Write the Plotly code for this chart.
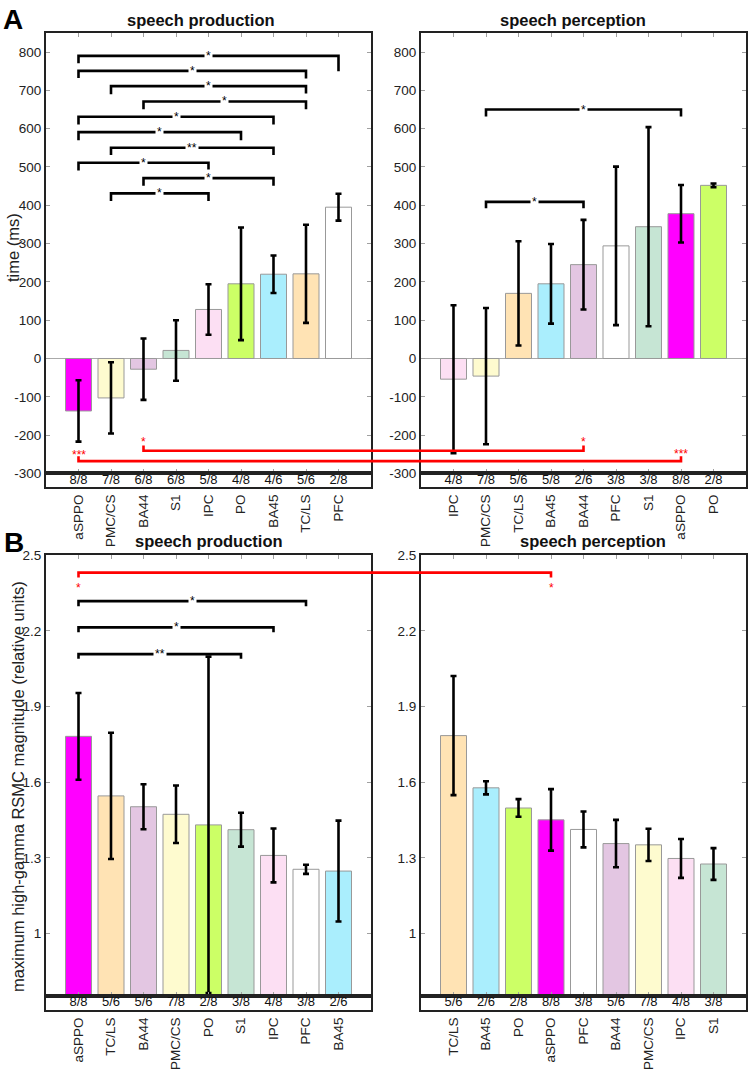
import plotly.graph_objects as go

W, H = 750, 1074

# ---------------- data ----------------
prod_time_regions = ["aSPPO", "PMC/CS", "BA44", "S1", "IPC", "PO", "BA45", "TC/LS", "PFC"]
prod_time_mean = [-137, -103, -28, 21, 128, 195, 220, 221, 395]
prod_time_err = [80, 93, 80, 79, 66, 147, 49, 128, 35]
prod_time_frac = ["8/8", "7/8", "6/8", "6/8", "5/8", "4/8", "4/6", "5/6", "2/8"]

perc_time_regions = ["IPC", "PMC/CS", "TC/LS", "BA45", "BA44", "PFC", "S1", "aSPPO", "PO"]
perc_time_mean = [-54, -46, 170, 195, 245, 294, 344, 378, 452]
perc_time_err = [193, 178, 136, 104, 117, 207, 260, 75, 5]
perc_time_frac = ["4/8", "7/8", "5/6", "5/8", "2/6", "3/8", "3/8", "8/8", "2/8"]

prod_mag_regions = ["aSPPO", "TC/LS", "BA44", "PMC/CS", "PO", "S1", "IPC", "PFC", "BA45"]
prod_mag_mean = [1.782, 1.546, 1.503, 1.473, 1.431, 1.412, 1.310, 1.255, 1.248]
prod_mag_err = [0.172, 0.250, 0.089, 0.114, 0.667, 0.067, 0.107, 0.018, 0.200]
prod_mag_frac = ["8/8", "5/6", "5/6", "7/8", "2/8", "3/8", "4/8", "3/8", "2/6"]

perc_mag_regions = ["TC/LS", "BA45", "PO", "aSPPO", "PFC", "BA44", "PMC/CS", "IPC", "S1"]
perc_mag_mean = [1.785, 1.578, 1.498, 1.451, 1.413, 1.357, 1.352, 1.298, 1.276]
perc_mag_err = [0.236, 0.026, 0.035, 0.122, 0.071, 0.094, 0.064, 0.077, 0.063]
perc_mag_frac = ["5/6", "2/6", "2/8", "8/8", "3/8", "5/6", "7/8", "4/8", "3/8"]

region_colors = {
    "aSPPO": "#ff00ff", "PMC/CS": "#fefbcf", "BA44": "#e3c6e2", "S1": "#c6e5d4",
    "IPC": "#fcdff3", "PO": "#ccff66", "BA45": "#aaeefd", "TC/LS": "#ffe3b4", "PFC": "#ffffff",
}

time_ticks = [-300, -200, -100, 0, 100, 200, 300, 400, 500, 600, 700, 800]
mag_ticks = [1.0, 1.3, 1.6, 1.9, 2.2, 2.5]
mag_ticktext = ["1", "1.3", "1.6", "1.9", "2.2", "2.5"]

# significance brackets: (left idx, right idx, level, left end, right end, label)
prod_time_sig = [
    (0, 8, 790, 771, 750, "*"), (0, 7, 751, 732, 731, "*"), (1, 7, 711, 690, 692, "*"),
    (2, 7, 671, 651, 651, "*"), (0, 6, 631, 611, 611, "*"), (0, 5, 591, 570, 570, "*"),
    (1, 6, 550, 531, 531, "**"), (0, 4, 511, 491, 491, "*"), (2, 6, 471, 451, 451, "*"),
    (1, 4, 431, 411, 411, "*"),
]
perc_time_sig = [(1, 7, 650, 632, 632, "*"), (1, 4, 409, 392, 392, "*")]
prod_mag_sig = [(0, 7, 2.318, 2.298, 2.298, "*"), (0, 6, 2.214, 2.195, 2.195, "*"),
                (0, 5, 2.108, 2.09, 2.09, "**")]
# cross-panel (production idx, perception idx, level, end, label, label-level-left, label-level-right)
time_cross_sig = [(0, 7, -268, -255, "***", -241, -238), (2, 4, -241, -227, "*", -208, -208)]
mag_cross_sig = [(0, 3, 2.431, 2.412, "*", 2.385, 2.385)]

# ---------------- layout geometry ----------------
def px(x):
    return x / W

def py(y):
    return 1 - y / H

XL = [px(46), px(371)]
XR = [px(421), px(746)]
A_MAIN = [py(473), py(26)]
A_STRIP = [py(487), py(473)]
B_MAIN = [py(1003.3), py(556)]
B_STRIP = [py(1017.3), py(1003.3)]
XRANGE = [-1, 9]
TIME_RANGE = [-300, 850.7]
MAG_RANGE = [0.7516, 2.5]

FRAME = "#222222"
TICKC = "#a0a0a0"
FONT = "Liberation Sans, Arial, sans-serif"

fig = go.Figure()
layout = dict(
    width=W, height=H, margin=dict(l=0, r=0, t=0, b=0),
    paper_bgcolor="white", plot_bgcolor="white",
    font=dict(family=FONT, color="#222"), showlegend=False,
)

panels = [
    ("x", "y", "x2", "y2", XL, A_MAIN, A_STRIP, TIME_RANGE, time_ticks, [str(t) for t in time_ticks],
     prod_time_regions, prod_time_mean, prod_time_err, prod_time_frac, prod_time_sig, True),
    ("x3", "y3", "x4", "y4", XR, A_MAIN, A_STRIP, TIME_RANGE, time_ticks, [str(t) for t in time_ticks],
     perc_time_regions, perc_time_mean, perc_time_err, perc_time_frac, perc_time_sig, True),
    ("x5", "y5", "x6", "y6", XL, B_MAIN, B_STRIP, MAG_RANGE, mag_ticks, mag_ticktext,
     prod_mag_regions, prod_mag_mean, prod_mag_err, prod_mag_frac, prod_mag_sig, False),
    ("x7", "y7", "x8", "y8", XR, B_MAIN, B_STRIP, MAG_RANGE, mag_ticks, mag_ticktext,
     perc_mag_regions, perc_mag_mean, perc_mag_err, perc_mag_frac, [], False),
]

def axname(a):
    return ("xaxis" if a[0] == "x" else "yaxis") + a[1:]

shapes = []
annotations = []

for (mx, my, sx, sy, xdom, ydom, sdom, yr, tv, tt, regions, mean, err, frac, sig, zl) in panels:
    idx = list(range(len(regions)))
    fig.add_trace(go.Bar(
        x=idx, y=mean, width=0.8,
        marker=dict(color=[region_colors[r] for r in regions], line=dict(color="#999999", width=1)),
        error_y=dict(type="data", array=err, color="black", thickness=2.6, width=3),
        xaxis=mx, yaxis=my, hoverinfo="skip",
    ))
    fig.add_trace(go.Scatter(
        x=idx, y=[0.5] * len(idx), mode="text", text=frac,
        textfont=dict(size=13, color="#111", family=FONT),
        xaxis=sx, yaxis=sy, hoverinfo="skip",
    ))
    layout[axname(mx)] = dict(
        domain=xdom, range=XRANGE, tickvals=idx, showticklabels=False,
        ticks="inside", ticklen=4, tickcolor=TICKC, showline=True, linecolor=FRAME,
        linewidth=2, mirror="ticks", showgrid=False, zeroline=False, anchor=my, fixedrange=True,
    )
    layout[axname(my)] = dict(
        domain=ydom, range=yr, tickvals=tv, ticktext=tt,
        ticks="inside", ticklen=4, tickcolor=TICKC, showline=True, linecolor=FRAME,
        linewidth=2, mirror="ticks", showgrid=False, zeroline=zl, zerolinecolor="#aaaaaa",
        zerolinewidth=1, anchor=mx, tickfont=dict(size=13.5, color="#222"), fixedrange=True,
    )
    layout[axname(sx)] = dict(
        domain=xdom, range=XRANGE, tickvals=idx, ticktext=regions, tickangle=-90,
        ticks="", showline=True, linecolor=FRAME, linewidth=2, mirror=True,
        showgrid=False, zeroline=False, anchor=sy, tickfont=dict(size=13.5, color="#222"),
        fixedrange=True,
    )
    layout[axname(sy)] = dict(
        domain=sdom, range=[0, 1], showticklabels=False, ticks="", showline=True,
        linecolor=FRAME, linewidth=2, mirror=True, showgrid=False, zeroline=False,
        anchor=sx, fixedrange=True,
    )
    for (a, b, lev, el, er, lab) in sig:
        shapes.append(dict(
            type="path", xref=mx, yref=my,
            path=f"M {a},{el} L {a},{lev} L {b},{lev} L {b},{er}",
            line=dict(color="black", width=2.6),
        ))
        annotations.append(dict(
            x=(a + b) / 2, y=lev, xref=mx, yref=my, text=lab, showarrow=False,
            xanchor="center", yanchor="middle",
            bgcolor="white", borderpad=1, font=dict(size=12, color="black", family=FONT),
        ))


def idx_to_paper(i, dom):
    return dom[0] + (i - XRANGE[0]) / (XRANGE[1] - XRANGE[0]) * (dom[1] - dom[0])


for sigs, yref in [(time_cross_sig, "y"), (mag_cross_sig, "y5")]:
    for (a, b, lev, end, lab, tl, tr) in sigs:
        xa = idx_to_paper(a, XL)
        xb = idx_to_paper(b, XR)
        shapes.append(dict(
            type="path", xref="paper", yref=yref,
            path=f"M {xa},{end} L {xa},{lev} L {xb},{lev} L {xb},{end}",
            line=dict(color="#ff0000", width=2.6),
        ))
        for xx, yy in [(xa, tl), (xb, tr)]:
            annotations.append(dict(
                x=xx, y=yy, xref="paper", yref=yref, text=lab, showarrow=False,
                xanchor="center", yanchor="middle",
                yshift=-4, font=dict(size=12, color="#ff0000", family=FONT),
            ))

# titles, panel letters, axis titles
for txt, x, y in [("speech production", 201, 13.5), ("speech perception", 572.5, 13.5),
                  ("speech production", 209, 541.5), ("speech perception", 593, 541.5)]:
    annotations.append(dict(x=px(x), y=py(y), xref="paper", yref="paper", text=f"<b>{txt}</b>",
                            xanchor="center", yanchor="middle",
                            showarrow=False, font=dict(size=16.5, color="#111", family=FONT)))
for txt, x, y in [("A", 13, 13), ("B", 14, 543)]:
    annotations.append(dict(x=px(x), y=py(y), xref="paper", yref="paper", text=f"<b>{txt}</b>",
                            xanchor="center", yanchor="middle",
                            showarrow=False, font=dict(size=28, color="#000", family=FONT)))
annotations.append(dict(x=px(12.5), y=py(244), xref="paper", yref="paper", text="time (ms)",
                        xanchor="center", yanchor="middle",
                        textangle=-90, showarrow=False, font=dict(size=16.5, color="#222", family=FONT)))
annotations.append(dict(x=px(18), y=py(791), xref="paper", yref="paper",
                        text="maximum high-gamma RSMC magnitude (relative units)",
                        xanchor="center", yanchor="middle",
                        textangle=-90, showarrow=False, font=dict(size=16.5, color="#222", family=FONT)))

layout["shapes"] = shapes
layout["annotations"] = annotations
fig.update_layout(**layout)
fig.write_html(
    "out.html",
    config={"displayModeBar": False, "staticPlot": True},
    post_script="document.body.style.margin='0';document.body.style.padding='0';"
                "document.body.style.overflow='hidden';",
)
